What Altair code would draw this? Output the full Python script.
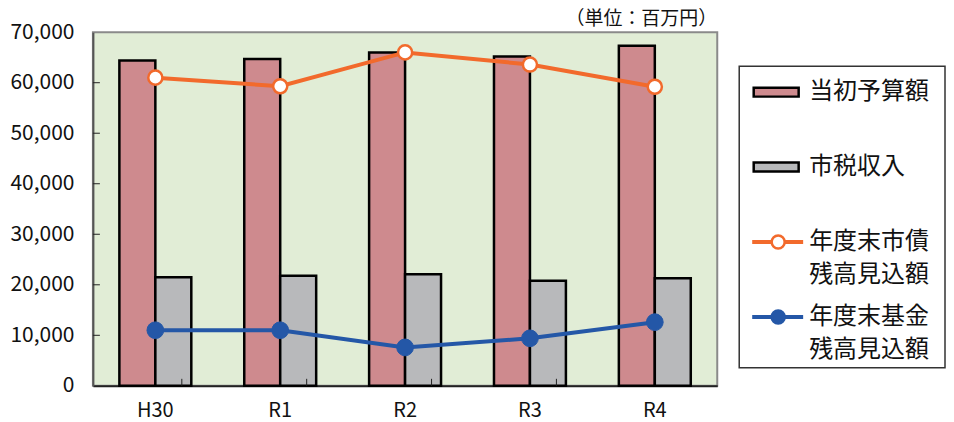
import altair as alt
import pandas as pd

# ---- data ----
cats = ["H30", "R1", "R2", "R3", "R4"]
budget = [64400, 64700, 66000, 65200, 67300]      # 当初予算額
tax = [21500, 21800, 22100, 20800, 21300]         # 市税収入
bond = [61000, 59300, 66000, 63600, 59200]        # 年度末市債残高見込額
fund = [11000, 11000, 7600, 9400, 12600]          # 年度末基金残高見込額

bar_names = ["当初予算額", "市税収入"]
legend_line1 = ["当初予算額", "市税収入", "年度末市債", "年度末基金"]
legend_line2 = ["", "", "残高見込額", "残高見込額"]
legend_kind = ["bar", "bar", "line", "line"]
y_ticks = [0, 10000, 20000, 30000, 40000, 50000, 60000, 70000]
unit_label = "（単位：百万円）"

PINK = "#CE8A8E"
GRAY = "#B8B9BB"
ORANGE = "#F26A2C"
BLUE = "#2457A7"
BG = "#E1EDD6"
FONT = "Noto Sans CJK JP"
TXT = "#111111"

legend_fill = [PINK, GRAY, "white", BLUE]
legend_stroke = ["black", "black", ORANGE, BLUE]

# ---- tables ----
bars_df = pd.DataFrame(
    [{"cat": c, "series": bar_names[0], "value": v} for c, v in zip(cats, budget)]
    + [{"cat": c, "series": bar_names[1], "value": v} for c, v in zip(cats, tax)]
)
bond_df = pd.DataFrame({"cat": cats, "value": bond})
fund_df = pd.DataFrame({"cat": cats, "value": fund})
ytick_df = pd.DataFrame({"value": y_ticks[1:-1]})
xtick_df = pd.DataFrame({"cat": cats[1:]})
leg_df = pd.DataFrame({"line1": legend_line1, "line2": legend_line2, "kind": legend_kind,
                       "fill": legend_fill, "stroke": legend_stroke})

x_enc = alt.X(
    "cat:N", sort=cats, title=None,
    scale=alt.Scale(domain=cats, paddingInner=0.424, paddingOuter=0.212),
    axis=alt.Axis(labelAngle=0, ticks=False, labelPadding=15, labelFontSize=20,
                  labelFont=FONT, labelColor=TXT, domainColor="#222222", domainWidth=2,
                  grid=False),
)
y_enc = alt.Y(
    "value:Q", title=None,
    scale=alt.Scale(domain=[0, 70000], nice=False, zero=True),
    axis=alt.Axis(values=y_ticks, format=",.0f", ticks=False, labelPadding=19, labelFontSize=21,
                  labelFont=FONT, labelColor=TXT, domainColor="#555555", domainWidth=2,
                  grid=False),
)

bars = alt.Chart(bars_df).mark_bar(stroke="black", strokeWidth=2.5).encode(
    x=x_enc,
    xOffset=alt.XOffset("series:N", sort=bar_names,
                        scale=alt.Scale(domain=bar_names, paddingInner=0, paddingOuter=0)),
    y=y_enc,
    fill=alt.Fill("series:N", scale=alt.Scale(domain=bar_names, range=[PINK, GRAY]), legend=None),
)

yticks = alt.Chart(ytick_df).mark_rule(color="#222222", strokeWidth=1).encode(
    x=alt.value(0), x2=alt.value(7), y=y_enc
)
xticks = alt.Chart(xtick_df).mark_rule(color="#222222", strokeWidth=1).encode(
    x=x_enc, xOffset=alt.value(-62.5), y=alt.value(347), y2=alt.value(354)
)

bond_line = alt.Chart(bond_df).mark_line(color=ORANGE, strokeWidth=4).encode(x=x_enc, y=y_enc)
bond_pts = alt.Chart(bond_df).mark_point(
    filled=True, fill="white", stroke=ORANGE, strokeWidth=2.5, size=200, opacity=1
).encode(x=x_enc, y=y_enc)
fund_line = alt.Chart(fund_df).mark_line(color=BLUE, strokeWidth=4).encode(x=x_enc, y=y_enc)
fund_pts = alt.Chart(fund_df).mark_point(
    filled=True, fill=BLUE, stroke=BLUE, strokeWidth=1, size=280, opacity=1
).encode(x=x_enc, y=y_enc)

main = alt.layer(bars, yticks, xticks, bond_line, fund_line, bond_pts, fund_pts).properties(
    width=625, height=354,
    title=alt.TitleParams(unit_label, anchor="end", fontSize=19, offset=-7.5, font=FONT,
                          fontWeight="normal", color=TXT),
    view=alt.ViewBackground(fill=BG, stroke="#8a8a8a", strokeWidth=2),
)

# ---- legend panel ----
ly = alt.Y("line1:N", sort=legend_line1, axis=None,
           scale=alt.Scale(type="point", domain=legend_line1, range=[26, 251], padding=0))
lbase = alt.Chart(leg_df)
leg_bar = lbase.transform_filter(alt.datum.kind == "bar").mark_point(
    shape="M-1,-0.2H1V0.2H-1Z", size=2025, filled=True, stroke="black", strokeWidth=2.5, opacity=1
).encode(x=alt.value(37), y=ly, fill=alt.Fill("fill:N", scale=None))
leg_line = lbase.transform_filter(alt.datum.kind == "line").mark_rule(strokeWidth=4).encode(
    x=alt.value(13), x2=alt.value(64), y=ly, color=alt.Color("stroke:N", scale=None)
)
leg_pt = lbase.transform_filter(alt.datum.kind == "line").mark_point(
    filled=True, size=170, strokeWidth=2.5, opacity=1
).encode(x=alt.value(39), y=ly, fill=alt.Fill("fill:N", scale=None),
         stroke=alt.Stroke("stroke:N", scale=None))
leg_t1 = lbase.mark_text(align="left", baseline="middle", fontSize=24,
                         font=FONT, color=TXT).encode(x=alt.value(70), y=ly, text="line1:N")
leg_t2 = lbase.mark_text(align="left", baseline="middle", fontSize=24,
                         font=FONT, color=TXT, dy=33).encode(x=alt.value(70), y=ly, text="line2:N")

legend = alt.layer(leg_bar, leg_line, leg_pt, leg_t1, leg_t2).properties(
    width=206, height=302,
    view=alt.ViewBackground(fill="white", stroke="#333333", strokeWidth=1.5),
)

# invisible spacer that drops the legend box below the plot's top edge
spacer = alt.Chart(pd.DataFrame({"a": [0]})).mark_point(opacity=0, size=1).encode(
    x=alt.value(10), y=alt.value(10)
).properties(width=206, height=32,
             view=alt.ViewBackground(fill="transparent", stroke="transparent"))

right = alt.vconcat(spacer, legend, spacing=0)

chart = alt.hconcat(main, right, spacing=20).properties(padding=0).configure(font=FONT)

chart.save("out.html", embed_options={"renderer": "svg", "actions": False})
